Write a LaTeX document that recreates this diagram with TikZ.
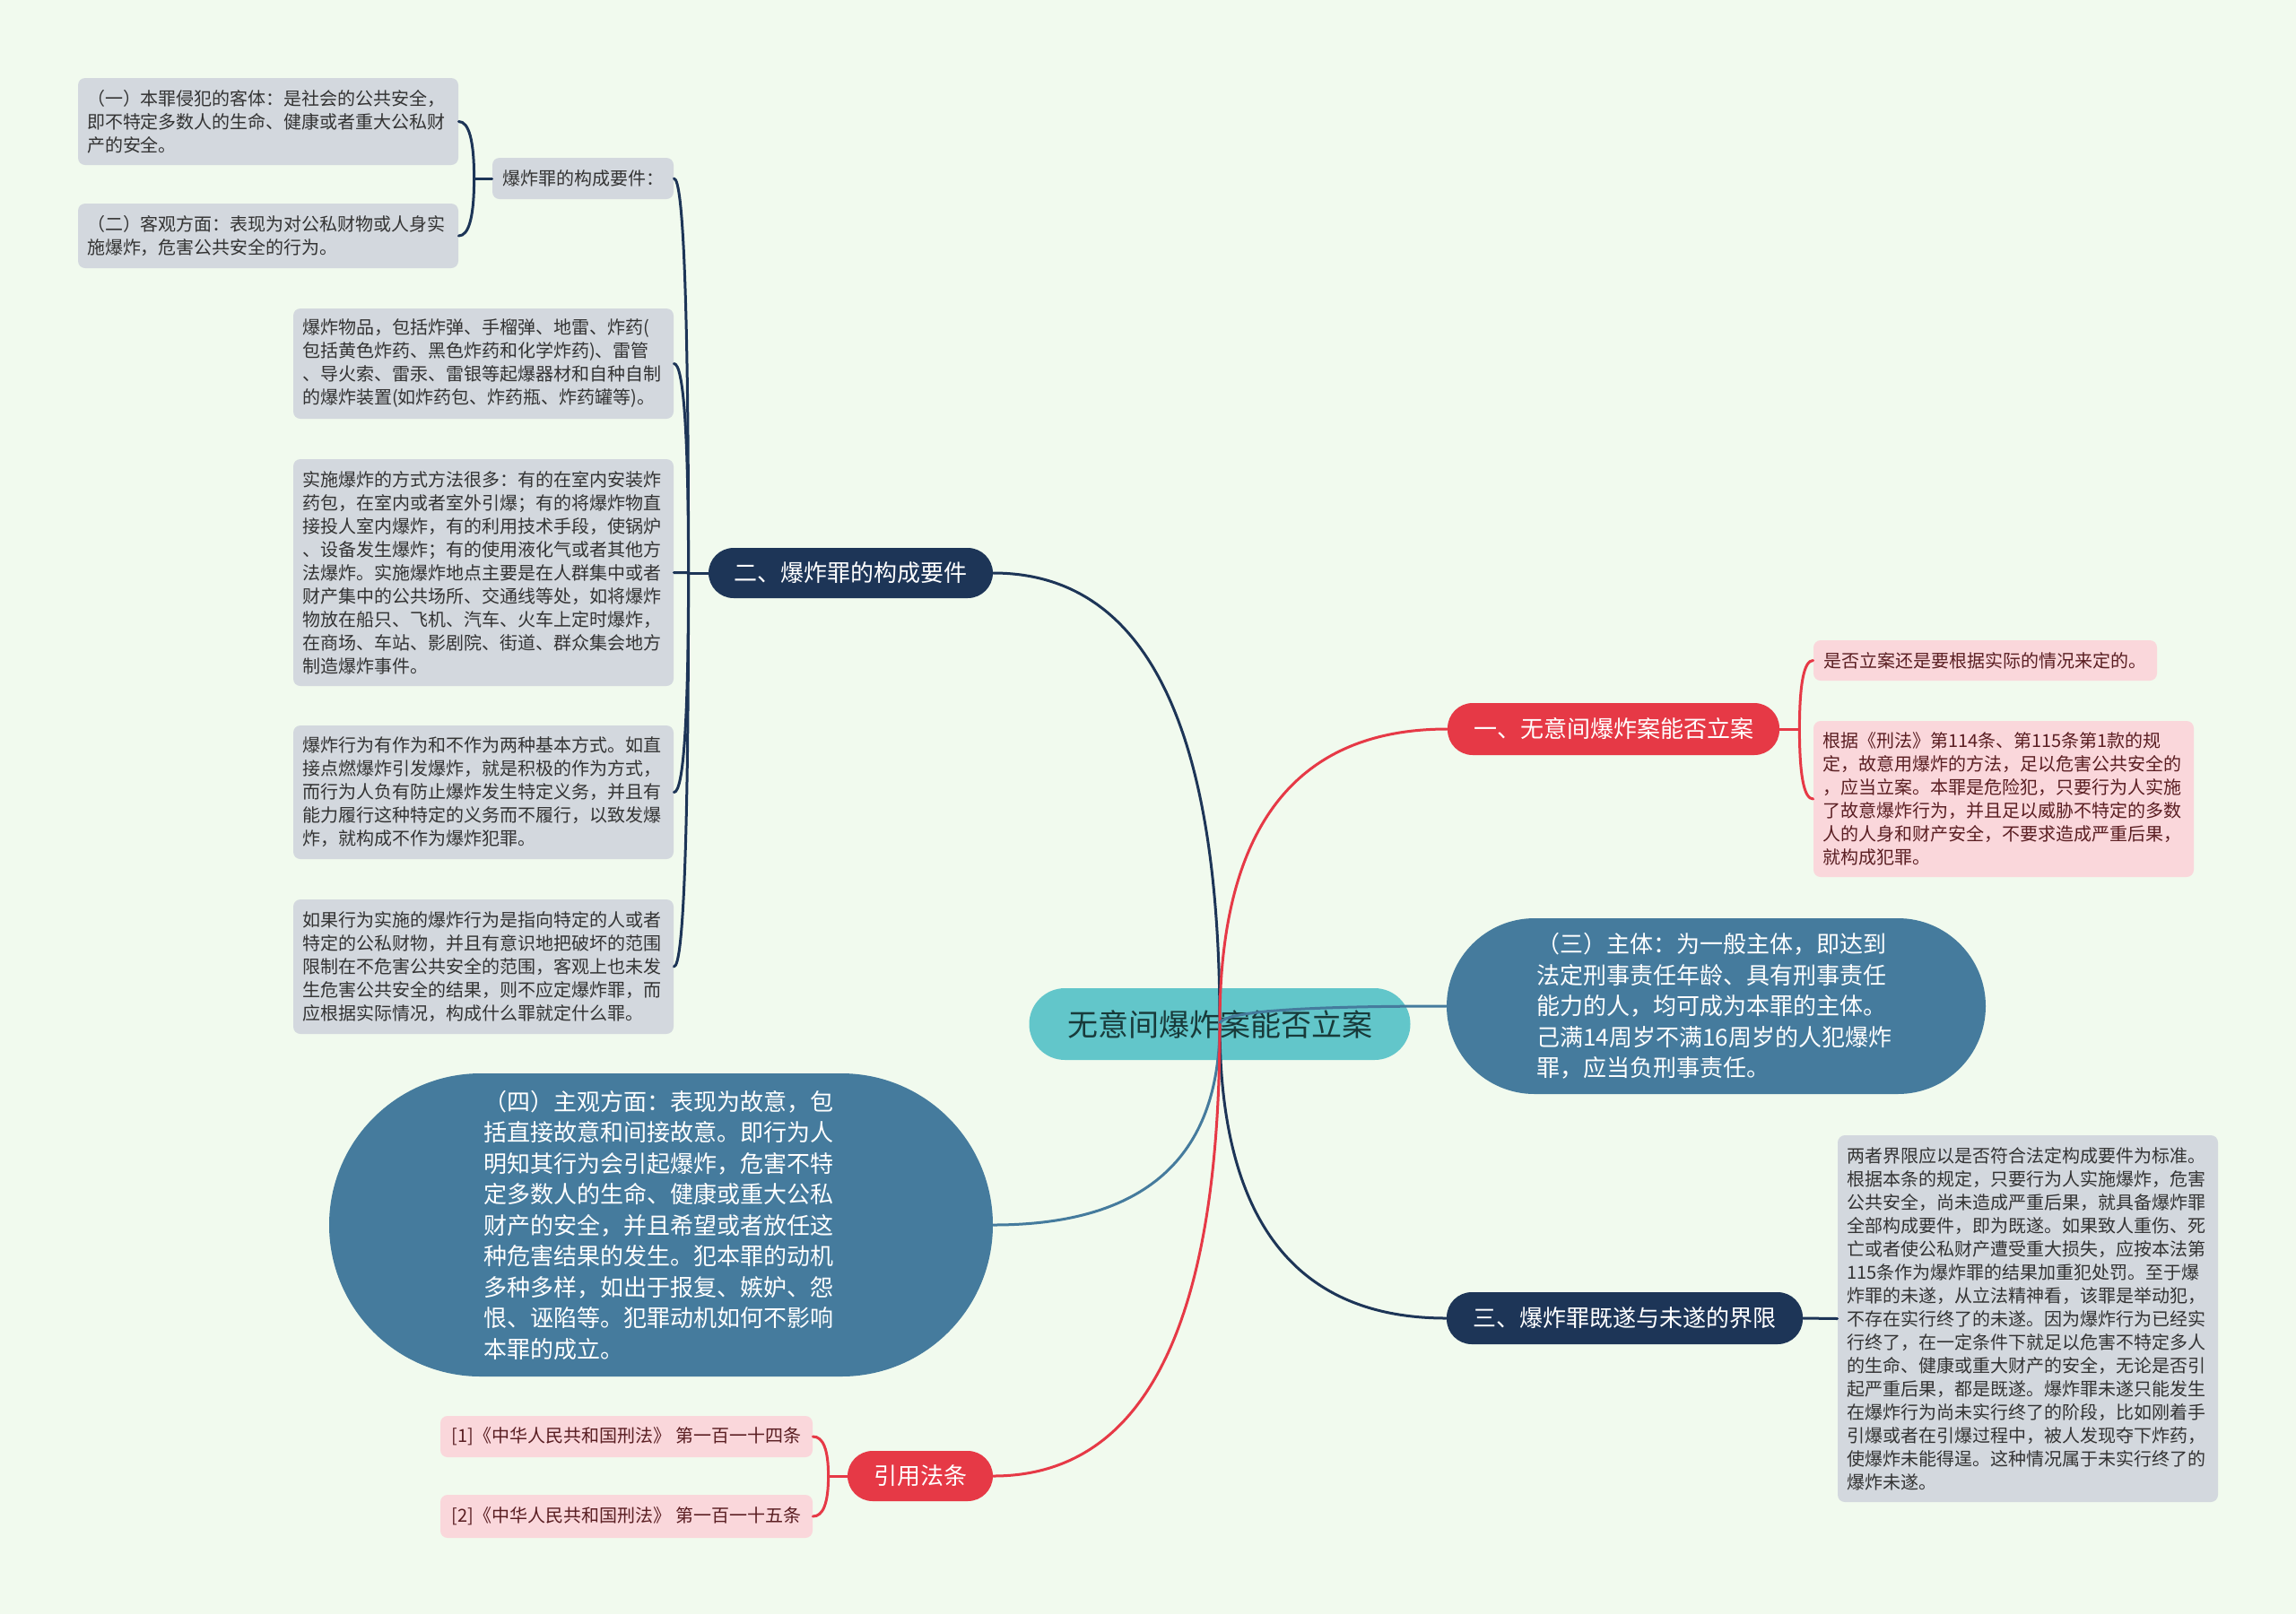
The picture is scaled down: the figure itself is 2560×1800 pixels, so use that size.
\documentclass[tikz,border=0pt]{standalone}
\usepackage{fontspec}
\setmainfont{Noto Sans CJK SC}
\usetikzlibrary{calc}

\definecolor{bgmint}{HTML}{F1FAEE}
\definecolor{branchnavy}{HTML}{1D3557}
\definecolor{branchred}{HTML}{E63946}
\definecolor{bubbleblue}{HTML}{457B9D}
\definecolor{centeraqua}{HTML}{62C6CA}
\definecolor{notegray}{HTML}{D3D8DE}
\definecolor{notepink}{HTML}{FAD7DB}
\definecolor{inkgray}{HTML}{333333}
\definecolor{inkred}{HTML}{5A1E22}
\definecolor{inkdark}{HTML}{183A3A}

% curved connector: quadratic bend through the corner (start x, end y)
\newcommand{\curvelink}[3]{%
  \draw[#1] (#2) .. controls ($(#2)!0.667!(#2 |- #3)$) and ($(#3)!0.667!(#2 |- #3)$) .. (#3);}

\tikzset{
  link/.style={line width=1.5pt, line cap=round},
  topic/.style={rounded corners=14pt, minimum height=28pt, inner sep=0pt, text=white,
    font=\fontsize{13pt}{17pt}\selectfont},
  bubble/.style={fill=bubbleblue, text=white, font=\fontsize{13pt}{17.25pt}\selectfont,
    align=left, text width=198pt, inner sep=0pt},
  note/.style={rounded corners=4pt, inner xsep=5pt, inner ysep=0pt,
    font=\fontsize{10pt}{13pt}\selectfont},
  graynote/.style={note, fill=notegray, text=inkgray},
  pinknote/.style={note, fill=notepink, text=inkred},
  longnote/.style={text width=202pt, align=left}
}

\begin{document}
\begin{tikzpicture}[x=0.5pt, y=-0.5pt]
  % page and background (pixel grid, y downwards)
  \useasboundingbox (0,0) rectangle (2560,1800);
  \fill[bgmint] (0,0) rectangle (2560,1800);

  % central topic
  \node[rounded corners=20pt, fill=centeraqua, text=inkdark, minimum width=212.5pt,
    minimum height=40pt, inner sep=0pt, font=\fontsize{17pt}{20pt}\selectfont]
    (ctr) at (1360,1142) {无意间爆炸案能否立案};

  % left branch: constituent elements
  \node[topic, fill=branchnavy, minimum width=158.5pt] (n2) at (948.5,639) {二、爆炸罪的构成要件};
  \node[graynote, minimum width=101pt, minimum height=23pt] (kreq) at (650,199) {爆炸罪的构成要件：};
  \node[graynote, longnote, minimum height=48.5pt] (obj) at (299,135.5)
    {（一）本罪侵犯的客体：是社会的公共安全，\\即不特定多数人的生命、健康或者重大公私财\\产的安全。};
  \node[graynote, longnote, minimum height=36pt] (objective) at (299,263)
    {（二）客观方面：表现为对公私财物或人身实\\施爆炸，危害公共安全的行为。};
  \node[graynote, longnote, minimum height=61.5pt] (b1) at (539,405.5)
    {爆炸物品，包括炸弹、手榴弹、地雷、炸药(\\包括黄色炸药、黑色炸药和化学炸药)、雷管\\、导火索、雷汞、雷银等起爆器材和自种自制\\的爆炸装置(如炸药包、炸药瓶、炸药罐等)。};
  \node[graynote, longnote, minimum height=126.5pt] (b2) at (539,638.5)
    {实施爆炸的方式方法很多：有的在室内安装炸\\药包，在室内或者室外引爆；有的将爆炸物直\\接投人室内爆炸，有的利用技术手段，使锅炉\\、设备发生爆炸；有的使用液化气或者其他方\\法爆炸。实施爆炸地点主要是在人群集中或者\\财产集中的公共场所、交通线等处，如将爆炸\\物放在船只、飞机、汽车、火车上定时爆炸，\\在商场、车站、影剧院、街道、群众集会地方\\制造爆炸事件。};
  \node[graynote, longnote, minimum height=74.5pt] (b3) at (539,883.5)
    {爆炸行为有作为和不作为两种基本方式。如直\\接点燃爆炸引发爆炸，就是积极的作为方式，\\而行为人负有防止爆炸发生特定义务，并且有\\能力履行这种特定的义务而不履行，以致发爆\\炸，就构成不作为爆炸犯罪。};
  \node[graynote, longnote, minimum height=75pt] (b4) at (539,1078)
    {如果行为实施的爆炸行为是指向特定的人或者\\特定的公私财物，并且有意识地把破坏的范围\\限制在不危害公共安全的范围，客观上也未发\\生危害公共安全的结果，则不应定爆炸罪，而\\应根据实际情况，构成什么罪就定什么罪。};

  % left bubble and law references
  \node[bubble, rounded corners=84.5pt, minimum width=370pt, minimum height=169pt] (p4) at (737,1366)
    {（四）主观方面：表现为故意，包\\括直接故意和间接故意。即行为人\\明知其行为会引起爆炸，危害不特\\定多数人的生命、健康或重大公私\\财产的安全，并且希望或者放任这\\种危害结果的发生。犯本罪的动机\\多种多样，如出于报复、嫉妒、怨\\恨、诬陷等。犯罪动机如何不影响\\本罪的成立。};
  \node[topic, fill=branchred, minimum width=81pt] (cite) at (1026,1646) {引用法条};
  \node[pinknote, minimum width=207.5pt, minimum height=23pt] (r1) at (698.5,1602)
    {[1]《中华人民共和国刑法》 第一百一十四条};
  \node[pinknote, minimum width=207.5pt, minimum height=24pt] (r2) at (698.5,1691)
    {[2]《中华人民共和国刑法》 第一百一十五条};

  % right branches
  \node[topic, fill=branchred, minimum width=185pt, minimum height=29pt] (n1) at (1799,813) {一、无意间爆炸案能否立案};
  \node[pinknote, minimum width=191.5pt, minimum height=22.5pt] (c1) at (2213.5,736.5)
    {是否立案还是要根据实际的情况来定的。};
  \node[pinknote, longnote, minimum height=87pt] (c2) at (2234,891)
    {根据《刑法》第114条、第115条第1款的规\\定，故意用爆炸的方法，足以危害公共安全的\\，应当立案。本罪是危险犯，只要行为人实施\\了故意爆炸行为，并且足以威胁不特定的多数\\人的人身和财产安全，不要求造成严重后果，\\就构成犯罪。};
  \node[bubble, text width=200pt, rounded corners=49pt, minimum width=300.5pt, minimum height=98pt] (p3) at (1913.5,1122)
    {（三）主体：为一般主体，即达到\\法定刑事责任年龄、具有刑事责任\\能力的人，均可成为本罪的主体。\\己满14周岁不满16周岁的人犯爆炸\\罪，应当负刑事责任。};
  \node[topic, fill=branchnavy, minimum width=198.5pt, minimum height=29pt] (n3) at (1811.5,1470) {三、爆炸罪既遂与未遂的界限};
  \node[graynote, longnote, minimum height=204.5pt] (verdict) at (2261,1470.5)
    {两者界限应以是否符合法定构成要件为标准。\\根据本条的规定，只要行为人实施爆炸，危害\\公共安全，尚未造成严重后果，就具备爆炸罪\\全部构成要件，即为既遂。如果致人重伤、死\\亡或者使公私财产遭受重大损失，应按本法第\\115条作为爆炸罪的结果加重犯处罚。至于爆\\炸罪的未遂，从立法精神看，该罪是举动犯，\\不存在实行终了的未遂。因为爆炸行为已经实\\行终了，在一定条件下就足以危害不特定多人\\的生命、健康或重大财产的安全，无论是否引\\起严重后果，都是既遂。爆炸罪未遂只能发生\\在爆炸行为尚未实行终了的阶段，比如刚着手\\引爆或者在引爆过程中，被人发现夺下炸药，\\使爆炸未能得逞。这种情况属于未实行终了的\\爆炸未遂。};

  % sub-branch connectors
  \draw[link, branchnavy] (kreq.west) -- ++(-20,0) coordinate (sA);
  \curvelink{link, branchnavy}{sA}{obj.east}
  \curvelink{link, branchnavy}{sA}{objective.east}
  \draw[link, branchnavy] (n2.west) -- ++(-22,0) coordinate (s2);
  \foreach \kid in {kreq,b1,b2,b3,b4} {
    \curvelink{link, branchnavy}{s2}{\kid.east}
  }
  \draw[link, branchred] (cite.west) -- ++(-21,0) coordinate (sR);
  \curvelink{link, branchred}{sR}{r1.east}
  \curvelink{link, branchred}{sR}{r2.east}
  \draw[link, branchred] (n1.east) -- ++(22,0) coordinate (s1);
  \curvelink{link, branchred}{s1}{c1.west}
  \curvelink{link, branchred}{s1}{c2.west}
  \draw[link, branchnavy] (n3.east) -- (verdict.west);

  % main connectors from the central topic (drawn over it)
  \curvelink{link, branchnavy}{ctr.center}{n2.east}
  \curvelink{link, branchred}{ctr.center}{n1.west}
  \curvelink{link, bubbleblue}{ctr.center}{p3.west}
  \curvelink{link, branchnavy}{ctr.center}{n3.west}
  \curvelink{link, bubbleblue}{ctr.center}{p4.east}
  \curvelink{link, branchred}{ctr.center}{cite.east}
\end{tikzpicture}
\end{document}
